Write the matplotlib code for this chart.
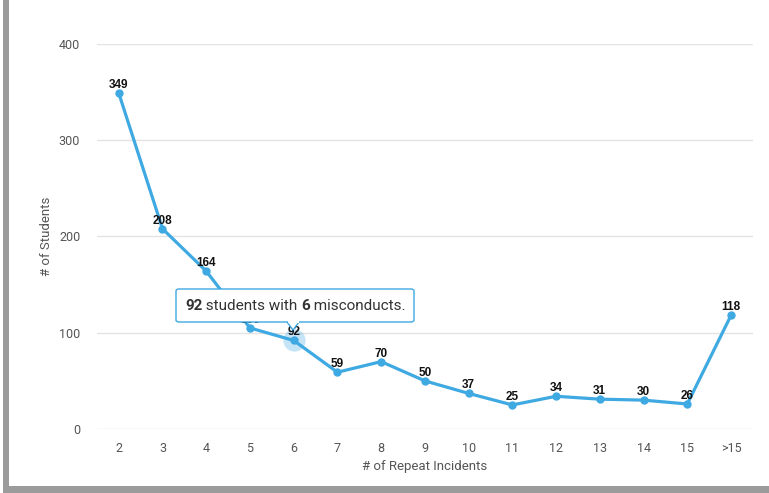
import matplotlib.pyplot as plt
import matplotlib.patches as mpatches

categories = ['2', '3', '4', '5', '6', '7', '8', '9', '10', '11', '12', '13', '14', '15', '>15']
students = [349, 208, 164, 105, 92, 59, 70, 50, 37, 25, 34, 31, 30, 26, 118]
yticks = [0, 100, 200, 300, 400]
hover_idx = 4

line_color = '#3fa9e2'
plt.rcParams['font.family'] = ['Roboto', 'DejaVu Sans']

fig = plt.figure(figsize=(7.69, 4.93), dpi=100)
ax = fig.add_axes([0.126, 0.1298, 0.853, 0.781])

x = list(range(len(categories)))
ax.plot(x, students, color=line_color, lw=2.3, marker='o', ms=5, zorder=3,
        solid_capstyle='round')
# hover halo
ax.plot(x[hover_idx], students[hover_idx], 'o', ms=16, color=line_color, alpha=0.3,
        mec='none', zorder=2)

for xi, v in zip(x, students):
    ax.annotate(str(v), (xi, v), xytext=(0, 1.5), textcoords='offset points',
                ha='center', va='bottom', fontsize=8.5, fontweight='bold',
                family=['Liberation Sans', 'DejaVu Sans'], color='#111111', zorder=4)

ax.set_xlim(-0.5, len(categories) - 0.5)
ax.set_ylim(0, 400)
ax.set_xticks(x)
ax.set_xticklabels(categories)
ax.set_yticks(yticks)
ax.grid(axis='y', color='#e3e3e3', lw=1)
ax.set_axisbelow(True)
for s in ax.spines.values():
    s.set_visible(False)
ax.tick_params(length=0, labelsize=9, colors='#555555', pad=9)
ax.tick_params(axis='y', pad=12)
ax.set_xlabel('# of Repeat Incidents', fontsize=9.5, color='#555555', labelpad=4)
ax.set_ylabel('# of Students', fontsize=9.5, color='#555555', labelpad=4)

# tooltip box
box = mpatches.FancyBboxPatch((176 / 769, 1 - 322 / 493), 238 / 769, 33 / 493,
                              boxstyle='round,pad=0,rounding_size=0.004',
                              transform=fig.transFigure, fc='white', ec=line_color,
                              lw=1, zorder=10)
fig.patches.append(box)
tri = mpatches.Polygon([(287 / 769, 1 - 322 / 493), (299 / 769, 1 - 322 / 493),
                        (293 / 769, 1 - 330 / 493)], closed=True,
                       transform=fig.transFigure, fc='white', ec=line_color, lw=1,
                       zorder=9)
fig.patches.append(tri)
cover = mpatches.Rectangle((287.5 / 769, 1 - 323 / 493), 11 / 769, 2 / 493,
                           transform=fig.transFigure, fc='white', ec='none', zorder=11)
fig.patches.append(cover)

parts = [(str(students[hover_idx]), 'bold'), (' students with ', 'normal'),
         (categories[hover_idx], 'bold'), (' misconducts.', 'normal')]
fig.canvas.draw()
renderer = fig.canvas.get_renderer()
tx = 185
for txt, w in parts:
    t = fig.text(tx / 769, 1 - 305.5 / 493, txt, fontsize=11, fontweight=w,
                 color='#333333', va='center', ha='left', zorder=12)
    tx += t.get_window_extent(renderer).width

# frame borders
fig.patches.append(mpatches.Rectangle((3 / 769, 0), 6 / 769, 1, transform=fig.transFigure,
                                      fc='#9b9b9b', ec='none'))
fig.patches.append(mpatches.Rectangle((3 / 769, 0), 1 - 3 / 769, 7 / 493,
                                      transform=fig.transFigure, fc='#9b9b9b', ec='none'))

fig.savefig('out.png', dpi=100)
